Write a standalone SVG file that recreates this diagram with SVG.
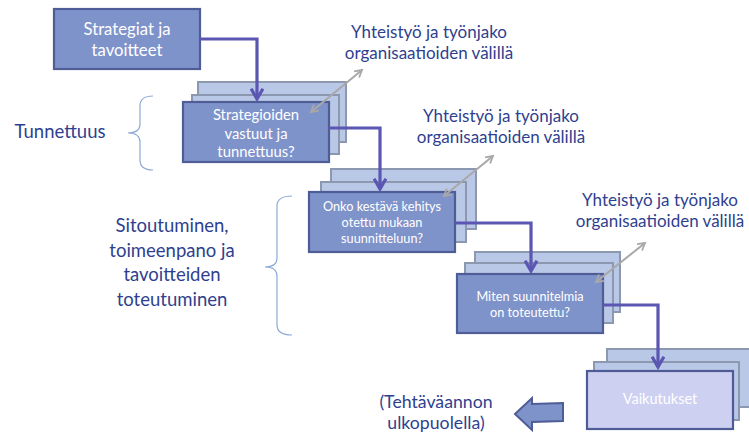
<svg xmlns="http://www.w3.org/2000/svg" width="749" height="435" viewBox="0 0 749 435">
<style>
.front{fill:#7f93cb;stroke:#4f5d96;stroke-width:2.2}
.stack{fill:#b9c8e6;stroke:#8c97b0;stroke-width:2}
.fin{fill:#cdd0f1;stroke:#4f5b96;stroke-width:2.2}
.bt{font-family:Lato,"Liberation Sans",sans-serif;fill:#ffffff;text-anchor:middle}
.lbl{font-family:Lato,"Liberation Sans",sans-serif;fill:#2f3f8f;text-anchor:middle}
.flow{fill:none;stroke:#5a56b2;stroke-width:3.2}
.coop{fill:none;stroke:#a8a8a8;stroke-width:2}
.brace{fill:none;stroke:#8eaad8;stroke-width:1.2}
</style>
<defs>
<marker id="ah" viewBox="0 0 10 10" refX="8" refY="5" markerWidth="4.6" markerHeight="4.6" orient="auto" markerUnits="strokeWidth">
<path d="M1,1 L8,5 L1,9" fill="none" stroke="#5a56b2" stroke-width="2.2"/>
</marker>
<marker id="gh" viewBox="0 0 10 10" refX="8" refY="5" markerWidth="5" markerHeight="5" orient="auto-start-reverse" markerUnits="strokeWidth">
<path d="M1,1 L8,5 L1,9" fill="none" stroke="#a8a8a8" stroke-width="1.8"/>
</marker>
</defs>
<rect width="749" height="435" fill="#ffffff"/>

<g id="brace-tunnettuus">
<path class="brace" d="M153,96 Q140,96 140,106 V124 Q140,133 128,133 Q140,133 140,142 V160 Q140,170 153,170"/>
<text class="lbl" x="60" y="138" font-size="18.5">Tunnettuus</text>
</g>
<g id="brace-sitoutuminen">
<path class="brace" d="M292,196 Q277,196 277,206 V258 Q277,267 265,267 Q277,267 277,276 V325 Q277,335 292,335"/>
<text class="lbl" font-size="18.5"><tspan x="172" y="232">Sitoutuminen,</tspan><tspan x="172" y="257">toimeenpano ja</tspan><tspan x="172" y="281">tavoitteiden</tspan><tspan x="172" y="306">toteutuminen</tspan></text>
</g>

<g id="n1">
<rect class="front" x="54" y="9" width="146" height="60"/>
<text class="bt" font-size="16.7"><tspan x="127" y="35">Strategiat ja</tspan><tspan x="127" y="56">tavoitteet</tspan></text>
</g>
<g id="n2">
<rect class="stack" x="198" y="82" width="148" height="60"/>
<rect class="stack" x="192" y="95" width="147" height="59"/>
<rect class="front" x="183" y="102" width="146" height="60"/>
<text class="bt" font-size="14.8"><tspan x="256" y="120">Strategioiden</tspan><tspan x="256" y="139">vastuut ja</tspan><tspan x="256" y="157">tunnettuus?</tspan></text>
</g>
<g id="n3">
<rect class="stack" x="331" y="169" width="145" height="60"/>
<rect class="stack" x="321" y="182" width="145" height="60"/>
<rect class="front" x="309" y="192" width="146" height="60"/>
<text class="bt" font-size="12.7"><tspan x="382" y="211">Onko kestävä kehitys</tspan><tspan x="382" y="227">otettu mukaan</tspan><tspan x="382" y="243">suunnitteluun?</tspan></text>
</g>
<g id="n4">
<rect class="stack" x="475" y="252" width="145" height="60"/>
<rect class="stack" x="465" y="263" width="148" height="60"/>
<rect class="front" x="457" y="274" width="146" height="59"/>
<text class="bt" font-size="12.7"><tspan x="530" y="301">Miten suunnitelmia</tspan><tspan x="530" y="317">on toteutettu?</tspan></text>
</g>
<g id="n5">
<rect class="stack" x="607" y="349" width="146" height="58"/>
<rect class="stack" x="594" y="362" width="145" height="58"/>
<rect class="fin" x="587" y="371" width="146" height="58"/>
<text class="bt" x="660" y="404" font-size="14.5">Vaikutukset</text>
</g>

<g id="coop-labels">
<text class="lbl" font-size="17"><tspan x="429" y="38">Yhteistyö ja työnjako</tspan><tspan x="429" y="59">organisaatioiden välillä</tspan></text>
<text class="lbl" font-size="17"><tspan x="501" y="122">Yhteistyö ja työnjako</tspan><tspan x="501" y="143">organisaatioiden välillä</tspan></text>
<text class="lbl" font-size="17"><tspan x="660" y="206">Yhteistyö ja työnjako</tspan><tspan x="660" y="227">organisaatioiden välillä</tspan></text>
</g>

<g id="outside">
<polygon points="515,414 532,398 532,404 563,403 563,421 532,422 532,430" fill="#7f93cb" stroke="#4f5d96" stroke-width="2"/>
<text class="lbl" font-size="17.7"><tspan x="436" y="408">(Tehtäväannon</tspan><tspan x="436" y="429">ulkopuolella)</tspan></text>
</g>

<g id="connectors">
<path class="flow" d="M200,39 H257 V99" marker-end="url(#ah)"/>
<path class="flow" d="M329,128 H380 V189" marker-end="url(#ah)"/>
<path class="flow" d="M455,223 H531 V271" marker-end="url(#ah)"/>
<path class="flow" d="M603,305 H658 V367" marker-end="url(#ah)"/>
<path class="coop" d="M311,112 L362,70" marker-start="url(#gh)" marker-end="url(#gh)"/>
<path class="coop" d="M444,196 L493,156" marker-start="url(#gh)" marker-end="url(#gh)"/>
<path class="coop" d="M596,282 L645,243" marker-start="url(#gh)" marker-end="url(#gh)"/>
</g>
</svg>
